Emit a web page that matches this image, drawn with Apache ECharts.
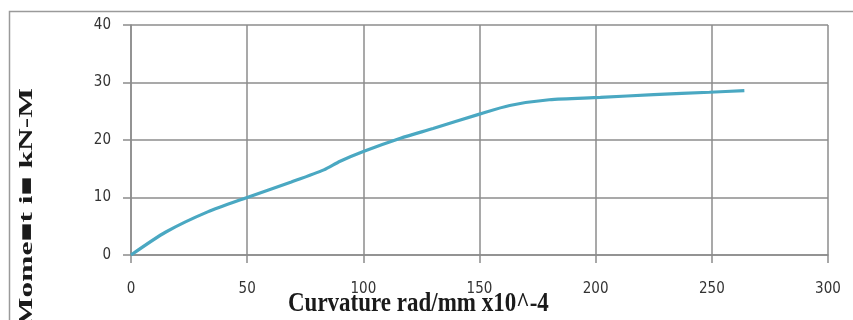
<!DOCTYPE html>
<html>
<head>
<meta charset="utf-8">
<script src="https://cdn.jsdelivr.net/npm/echarts@6/dist/echarts.min.js"></script>
<style>html,body{margin:0;padding:0;background:#fff;}#c{width:853px;height:320px;}</style>
</head>
<body>
<div id="c"></div>
<script>
const curvature = [0, 15, 33, 50, 69, 83, 90, 100, 116, 130, 150, 163, 180, 202, 225, 249, 264];
const moment    = [0, 4, 7.5, 10, 12.7, 14.8, 16.3, 18, 20.3, 22, 24.5, 26, 27, 27.4, 27.9, 28.3, 28.6];
const xTitle = 'Curvature rad/mm x10^-4';
const yTitle = 'Mome\u25A0t i\u25A0 kN-M';

const chart = echarts.init(document.getElementById('c'), null, {renderer: 'canvas'});
const gridColor = '#8c8c8c';
const labelStyle = {color: '#333', fontSize: 15, fontFamily: '"Liberation Sans Narrow", "DejaVu Sans Condensed", Arial, sans-serif'};
chart.setOption({
  animation: false,
  backgroundColor: '#fff',
  grid: {left: 131, right: 25, top: 25, bottom: 65, containLabel: false},
  xAxis: {
    type: 'value', min: 0, max: 300, interval: 50,
    axisLine: {show: true, lineStyle: {color: gridColor, width: 1.5}},
    axisTick: {show: true, length: 8, lineStyle: {color: gridColor, width: 1.5}},
    axisLabel: Object.assign({margin: 27}, labelStyle),
    splitLine: {show: true, lineStyle: {color: gridColor, width: 1.5}}
  },
  yAxis: {
    type: 'value', min: 0, max: 40, interval: 10,
    axisLine: {show: true, lineStyle: {color: gridColor, width: 1.5}},
    axisTick: {show: true, length: 8, lineStyle: {color: gridColor, width: 1.5}},
    axisLabel: Object.assign({margin: 20}, labelStyle),
    splitLine: {show: true, lineStyle: {color: gridColor, width: 1.5}}
  },
  series: [{
    type: 'line',
    data: curvature.map((c, i) => [c, moment[i]]),
    smooth: 0.25,
    showSymbol: false,
    lineStyle: {color: '#4aa8c2', width: 3.2},
    z: 3
  }],
  graphic: [
    {type: 'rect', shape: {x: 9.5, y: 11.5, width: 900, height: 400}, style: {fill: 'none', stroke: '#9a9a9a', lineWidth: 1.5}, z: 0},
    {type: 'text', x: 288, y: 304, scaleY: 1.2,
     style: {text: xTitle, font: 'bold 23px "Liberation Serif", "Times New Roman", serif', fill: '#1a1a1a', textAlign: 'left', textVerticalAlign: 'middle'}, z: 10},
    {type: 'text', x: 27, y: 88, rotation: Math.PI / 2, scaleX: 1.75,
     style: {text: yTitle, font: 'bold 18px "Liberation Serif", "Times New Roman", serif', fill: '#1a1a1a', textAlign: 'right', textVerticalAlign: 'middle'}, z: 10}
  ]
});
</script>
</body>
</html>
